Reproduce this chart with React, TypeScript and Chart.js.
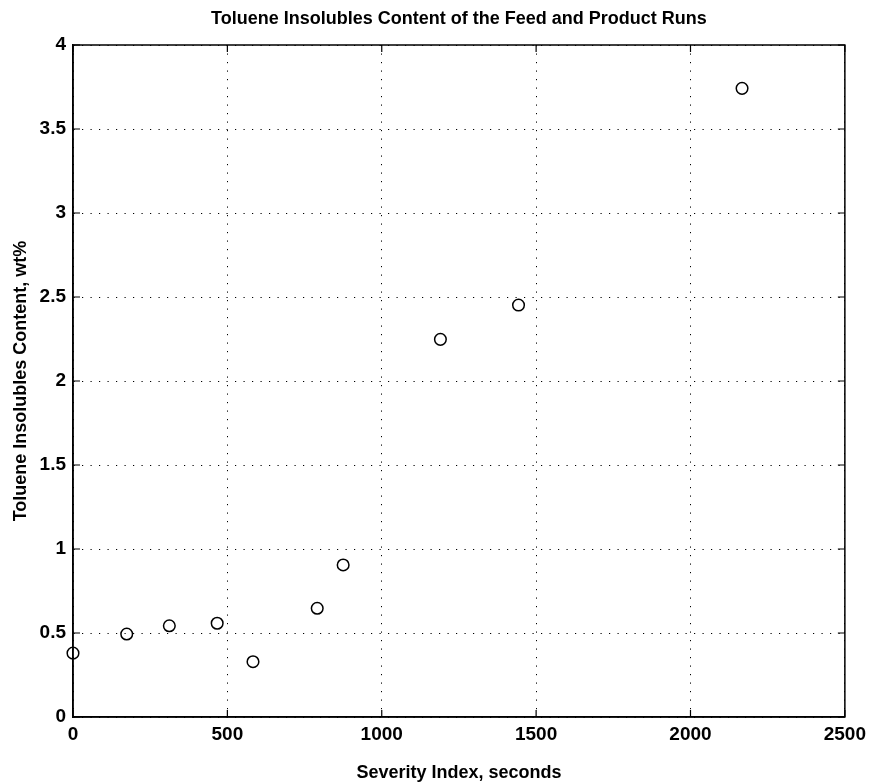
import React, { useEffect, useRef } from "react";
import { Chart, registerables } from "chart.js";

Chart.register(...registerables);

const titleText = "Toluene Insolubles Content of the Feed and Product Runs";
const xAxisTitle = "Severity Index, seconds";
const yAxisTitle = "Toluene Insolubles Content, wt%";

const severity = [0, 174, 312, 467, 583, 791, 875, 1190, 1443, 2167];
const insolubles = [0.38, 0.494, 0.543, 0.558, 0.329, 0.647, 0.905, 2.248, 2.452, 3.742];

const xTicks = [0, 500, 1000, 1500, 2000, 2500];
const yTicks = [0, 0.5, 1, 1.5, 2, 2.5, 3, 3.5, 4];

const FONT = "'Liberation Sans', Arial, Helvetica, sans-serif";

const boxPlugin = {
  id: "matlabBox",
  afterDraw(chart: any) {
    const { ctx, chartArea } = chart;
    const { left, right, top, bottom } = chartArea;
    const xs = chart.scales.x;
    const ys = chart.scales.y;
    ctx.save();
    ctx.strokeStyle = "#000";
    ctx.lineWidth = 1.5;
    ctx.setLineDash([]);
    ctx.strokeRect(left, top, right - left, bottom - top);
    const tl = 7;
    ctx.lineWidth = 1.2;
    ctx.beginPath();
    xTicks.forEach((v) => {
      const px = xs.getPixelForValue(v);
      ctx.moveTo(px, bottom);
      ctx.lineTo(px, bottom - tl);
      ctx.moveTo(px, top);
      ctx.lineTo(px, top + tl);
    });
    yTicks.forEach((v) => {
      const py = ys.getPixelForValue(v);
      ctx.moveTo(left, py);
      ctx.lineTo(left + tl, py);
      ctx.moveTo(right, py);
      ctx.lineTo(right - tl, py);
    });
    ctx.stroke();
    ctx.restore();
  },
};

export default function App() {
  const canvasRef = useRef<HTMLCanvasElement | null>(null);

  useEffect(() => {
    document.body.style.margin = "0";
    const canvas = canvasRef.current;
    if (!canvas) return;
    const chart = new Chart(canvas, {
      type: "scatter",
      data: {
        datasets: [
          {
            data: severity.map((x, i) => ({ x, y: insolubles[i] })),
            pointStyle: "circle",
            pointRadius: 5.8,
            pointHoverRadius: 5.8,
            pointBorderWidth: 1.5,
            pointBorderColor: "#000",
            pointBackgroundColor: "rgba(0,0,0,0)",
            borderColor: "#000",
            showLine: false,
            clip: false,
          } as any,
        ],
      },
      options: {
        animation: false,
        responsive: true,
        maintainAspectRatio: false,
        layout: { padding: { left: 0, right: 26, top: 0, bottom: 0 } },
        plugins: {
          legend: { display: false },
          tooltip: { enabled: false },
          title: {
            display: true,
            text: titleText,
            color: "#000",
            fullSize: false,
            font: { family: FONT, size: 18, weight: "bold" },
            padding: { top: 8.5, bottom: 14.9 },
          },
        },
        scales: {
          x: {
            type: "linear",
            min: 0,
            max: 2500,
            afterBuildTicks: (scale: any) => {
              scale.ticks = xTicks.map((v) => ({ value: v }));
            },
            afterFit: (scale: any) => {
              scale.height = 67;
            },
            ticks: {
              color: "#000",
              font: { family: FONT, size: 19, weight: "bold" },
              padding: 6,
              maxRotation: 0,
              autoSkip: false,
              callback: (v: any) => String(v),
            },
            grid: {
              color: "#000",
              lineWidth: 1,
              drawTicks: false,
            },
            border: { display: true, color: "#000", width: 1.5, dash: [1.2, 7.3] },
            title: {
              display: true,
              text: xAxisTitle,
              color: "#000",
              font: { family: FONT, size: 18, weight: "bold" },
              padding: { top: 0, bottom: 0 },
            },
          },
          y: {
            type: "linear",
            min: 0,
            max: 4,
            afterBuildTicks: (scale: any) => {
              scale.ticks = yTicks.map((v) => ({ value: v }));
            },
            afterFit: (scale: any) => {
              scale.width = 73;
            },
            ticks: {
              color: "#000",
              font: { family: FONT, size: 19, weight: "bold" },
              padding: 7,
              autoSkip: false,
              callback: (v: any) => String(v),
            },
            grid: {
              color: "#000",
              lineWidth: 1,
              drawTicks: false,
            },
            border: { display: true, color: "#000", width: 1.5, dash: [1.2, 7.3] },
            title: {
              display: true,
              text: yAxisTitle,
              color: "#000",
              font: { family: FONT, size: 18, weight: "bold" },
              padding: { top: 10, bottom: 0 },
            },
          },
        },
      },
      plugins: [boxPlugin],
    });
    return () => chart.destroy();
  }, []);

  return (
    <div style={{ width: 872, height: 784, position: "relative", background: "#fff" }}>
      <canvas ref={canvasRef} />
    </div>
  );
}
